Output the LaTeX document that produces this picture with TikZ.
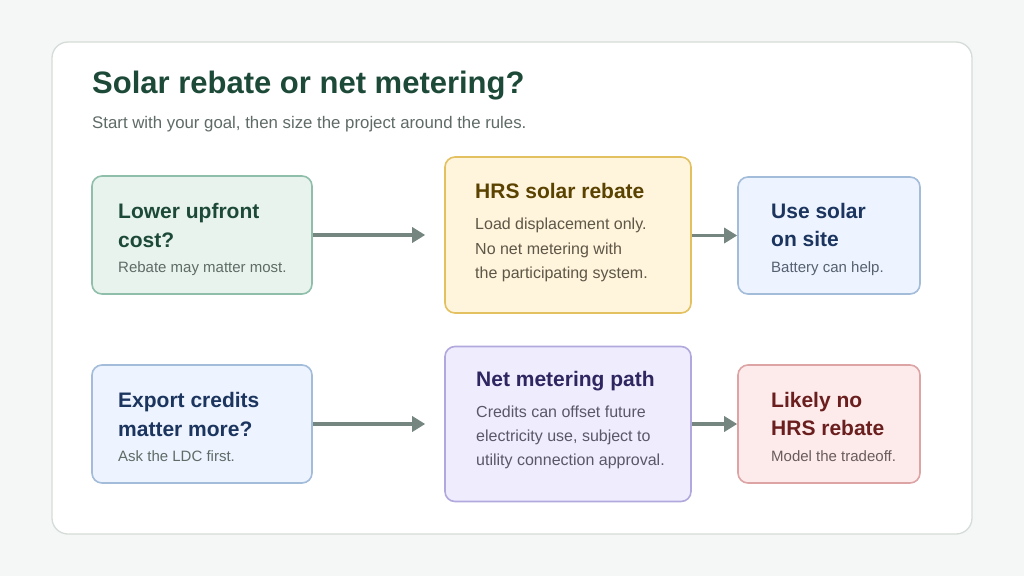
\documentclass[tikz,border=0pt]{standalone}
\usepackage{fontspec}
\setmainfont{Liberation Sans}
\usetikzlibrary{arrows.meta}
\definecolor{bgc}{HTML}{F5F7F6}
\definecolor{cardline}{HTML}{D5DCD8}
\definecolor{ttlgreen}{HTML}{1D4A38}
\definecolor{subgrey}{HTML}{5F6B66}
\definecolor{arrowc}{HTML}{758580}
\definecolor{gfill}{HTML}{E8F3EE}\definecolor{gline}{HTML}{8FBFAA}
\definecolor{yfill}{HTML}{FFF4DC}\definecolor{yline}{HTML}{E3C060}\definecolor{ytext}{HTML}{5A4200}\definecolor{ybody}{HTML}{5E5646}
\definecolor{bfill}{HTML}{EDF3FF}\definecolor{bline}{HTML}{A3BCD9}\definecolor{btext}{HTML}{1B355E}\definecolor{bbody}{HTML}{566170}
\definecolor{pfill}{HTML}{EFECFD}\definecolor{pline}{HTML}{B3A8DD}\definecolor{ptext}{HTML}{2E2660}\definecolor{pbody}{HTML}{5A5868}
\definecolor{rfill}{HTML}{FDEBEB}\definecolor{rline}{HTML}{DCA4A4}\definecolor{rtext}{HTML}{6A1E1E}\definecolor{rbody}{HTML}{6A5C5C}
\begin{document}
\begin{tikzpicture}[x=1pt,y=-1pt,
  card/.style={draw=cardline,line width=1.3pt,fill=white,rounded corners=16pt},
  boxc/.style={rectangle,rounded corners=10pt,line width=1.6pt,inner sep=0pt},
  btitle/.style={anchor=base west,inner sep=0pt,font=\fontsize{21}{25}\selectfont\bfseries},
  bsub/.style={anchor=base west,inner sep=0pt,font=\fontsize{15}{18}\selectfont},
  bbodyt/.style={anchor=base west,inner sep=0pt,font=\fontsize{16}{19}\selectfont},
  conn/.style={draw=arrowc,line width=3.2pt,-{Triangle[length=13pt,width=15pt]}}
]
\useasboundingbox (0,0) rectangle (1024,576);
\fill[bgc] (0,0) rectangle (1024,576);
\draw[card] (52,42) rectangle (972,534);
\node[anchor=base west,inner sep=0pt,text=ttlgreen,font=\fontsize{31}{36}\selectfont\bfseries] (title) at (92,93) {Solar rebate or net metering?};
\node[anchor=base west,inner sep=0pt,text=subgrey,font=\fontsize{16.8}{20}\selectfont] (subtitle) at (92,128) {Start with your goal, then size the project around the rules.};

% boxes
\node[boxc,draw=gline,fill=gfill,minimum width=220pt,minimum height=118pt] (b1) at (202,235) {};
\node[boxc,draw=yline,fill=yfill,minimum width=246pt,minimum height=156pt] (b2) at (568,235) {};
\node[boxc,draw=bline,fill=bfill,minimum width=182pt,minimum height=117pt] (b3) at (829,235.5) {};
\node[boxc,draw=bline,fill=bfill,minimum width=220pt,minimum height=118pt] (b4) at (202,424) {};
\node[boxc,draw=pline,fill=pfill,minimum width=246pt,minimum height=155pt] (b5) at (568,424) {};
\node[boxc,draw=rline,fill=rfill,minimum width=182pt,minimum height=118pt] (b6) at (829,424) {};

% box texts
\node[btitle,text=ttlgreen] (t1a) at (118,218) {Lower upfront};
\node[btitle,text=ttlgreen] (t1b) at (118,247) {cost?};
\node[bsub,text=subgrey] (s1) at (118,272) {Rebate may matter most.};

\node[btitle,text=ytext] (t2) at (475,198) {HRS solar rebate};
\node[bbodyt,text=ybody] (s2a) at (475,229) {Load displacement only.};
\node[bbodyt,text=ybody] (s2b) at (475,254) {No net metering with};
\node[bbodyt,text=ybody] (s2c) at (475,278) {the participating system.};

\node[btitle,text=btext] (t3a) at (771,218) {Use solar};
\node[btitle,text=btext] (t3b) at (771,246) {on site};
\node[bsub,text=bbody] (s3) at (771,272) {Battery can help.};

\node[btitle,text=btext] (t4a) at (118,407) {Export credits};
\node[btitle,text=btext] (t4b) at (118,436) {matter more?};
\node[bsub,text=subgrey] (s4) at (118,461) {Ask the LDC first.};

\node[btitle,text=ptext] (t5) at (476,386) {Net metering path};
\node[bbodyt,text=pbody] (s5a) at (476,417) {Credits can offset future};
\node[bbodyt,text=pbody] (s5b) at (476,441) {electricity use, subject to};
\node[bbodyt,text=pbody] (s5c) at (476,465) {utility connection approval.};

\node[btitle,text=rtext] (t6a) at (771,407) {Likely no};
\node[btitle,text=rtext] (t6b) at (771,435) {HRS rebate};
\node[bsub,text=rbody] (s6) at (771,461) {Model the tradeoff.};

% connectors
\coordinate (e1) at ([xshift=-19pt]b2.west |- b1.east);
\coordinate (e3) at ([xshift=-19pt]b5.west |- b4.east);
\draw[conn] (b1.east) -- (e1);
\draw[conn] (b2.east |- b3.west) -- (b3.west);
\draw[conn] (b4.east) -- (e3);
\draw[conn] (b5.east |- b6.west) -- (b6.west);
\end{tikzpicture}
\end{document}
